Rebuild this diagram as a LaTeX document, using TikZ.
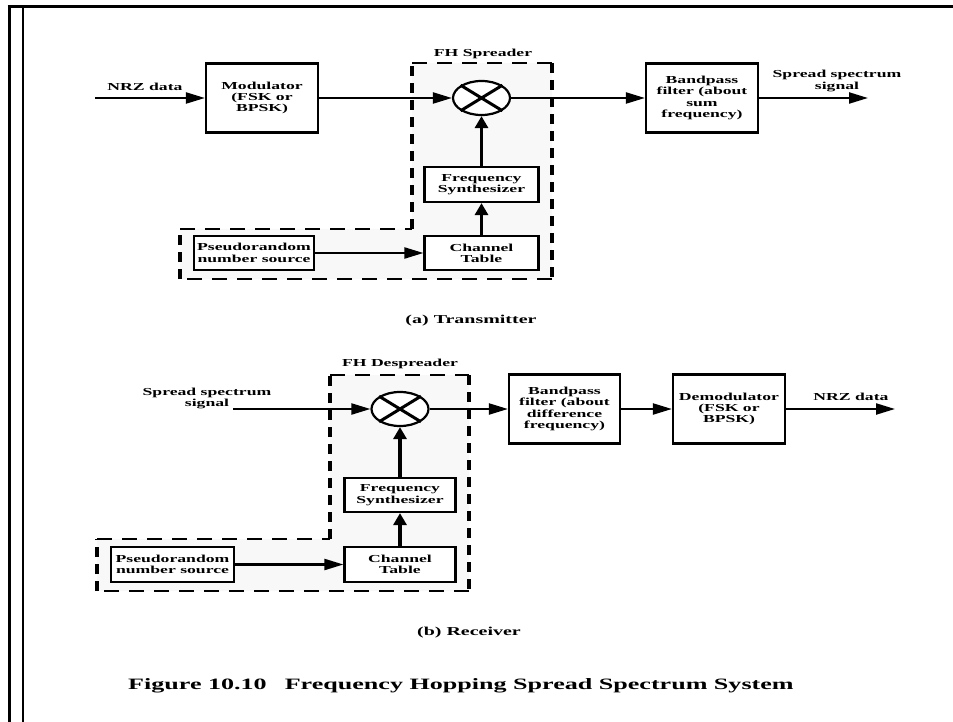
\documentclass[tikz,border=0pt]{standalone}
\usepackage{fontspec}
\newfontfamily\widefont{Liberation Serif}[FakeStretch=1.65]
\usetikzlibrary{arrows.meta,shapes.geometric}
\definecolor{regionfill}{HTML}{F8F8F8}
\tikzset{
  txt/.style={font=\widefont\bfseries\fontsize{10.7}{11.3}\selectfont},
  blk/.style={txt, draw, line width=2.2pt, fill=white, inner sep=0pt, align=center},
  lbl/.style={txt, inner sep=0pt, align=center},
  sublbl/.style={inner sep=0pt, font=\widefont\bfseries\fontsize{12.1}{14}\selectfont},
  capt/.style={inner sep=0pt, font=\widefont\bfseries\fontsize{15.8}{18}\selectfont},
  hflow/.style={line width=2.2pt, -{Triangle[length=19pt,width=11pt]}},
  vflow/.style={line width=3.2pt, -{Triangle[length=12pt,width=13pt]}},
  hdash/.style={line width=2.2pt, dash pattern=on 15pt off 10pt},
  vdash/.style={line width=3.4pt, dash pattern=on 10pt off 7pt},
  mixer/.style={draw, ellipse, line width=2.2pt, fill=white, inner sep=0pt,
                minimum width=57pt, minimum height=34pt},
  cross/.style={line width=3pt},
}
\begin{document}
\begin{tikzpicture}[x=1pt,y=-1pt]
\useasboundingbox (0,0) rectangle (953,722);

% page frame
\draw[line width=3pt] (7.5,7) -- (953,7);
\draw[line width=3pt] (9,5.5) -- (9,722);
\draw[line width=2pt] (23,8) -- (23,722);

% ---------------- (a) Transmitter ----------------
\fill[regionfill] (412,63) -- (552,63) -- (552,279) -- (180,279) -- (180,229) -- (412,229) -- cycle;
\draw[hdash] (412,63) -- (552,63);
\draw[vdash] (552,63) -- (552,279);
\draw[hdash] (552,279) -- (180,279);
\draw[vdash] (180,279) -- (180,229);
\draw[hdash] (180,229) -- (412,229);
\draw[vdash] (412,229) -- (412,63);
\node[lbl] (spreadlbl) at (483,54) {FH Spreader};

\coordinate (nrzin) at (95,98);
\coordinate (sigout) at (868,98);
\node[blk, minimum width=112pt, minimum height=69pt] (mod) at (262,98) {Modulator\\(FSK or\\BPSK)};
\node[mixer] (mixa) at (481.5,98) {};
\draw[cross] (mixa.north east) -- (mixa.south west) (mixa.north west) -- (mixa.south east);
\node[blk, minimum width=112pt, minimum height=69pt] (bpfa) at (702,98) {Bandpass\\filter (about\\sum\\frequency)};
\node[blk, minimum width=114pt, minimum height=35pt] (fsa) at (481.5,184.5) {Frequency\\Synthesizer};
\node[blk, minimum width=114pt, minimum height=34pt] (cta) at (481.5,253) {Channel\\Table};
\node[blk, minimum width=120pt, minimum height=34pt] (pra) at (254,253) {Pseudorandom\\number source};

\node[lbl] (nrzlbla) at (145,87) {NRZ data};
\node[lbl] (siglbla) at (837,81) {Spread spectrum\\signal};

\draw[hflow] (nrzin) -- (mod);
\draw[hflow] (mod) -- (mixa);
\draw[hflow] (mixa) -- (bpfa);
\draw[hflow] (bpfa) -- (sigout);
\draw[vflow] (fsa) -- (mixa);
\draw[vflow] (cta) -- (fsa);
\draw[hflow] (pra) -- (cta);

\node[sublbl] (capa) at (471,321) {(a) Transmitter};

% ---------------- (b) Receiver ----------------
\fill[regionfill] (330,375) -- (469,375) -- (469,591) -- (97,591) -- (97,539) -- (330,539) -- cycle;
\draw[hdash] (330,375) -- (469,375);
\draw[vdash] (469,375) -- (469,591);
\draw[hdash] (469,591) -- (97,591);
\draw[vdash] (97,591) -- (97,539);
\draw[hdash] (97,539) -- (330,539);
\draw[vdash] (330,539) -- (330,375);
\node[lbl] (despreadlbl) at (400,364) {FH Despreader};

\coordinate (sigin) at (233,409);
\coordinate (nrzout) at (895,409);
\node[mixer] (mixb) at (400,409) {};
\draw[cross] (mixb.north east) -- (mixb.south west) (mixb.north west) -- (mixb.south east);
\node[blk, minimum width=111pt, minimum height=69pt] (bpfb) at (564.5,409) {Bandpass\\filter (about\\difference\\frequency)};
\node[blk, minimum width=112pt, minimum height=69pt] (dem) at (729,409) {Demodulator\\(FSK or\\BPSK)};
\node[blk, minimum width=111pt, minimum height=34pt] (fsb) at (400,495) {Frequency\\Synthesizer};
\node[blk, minimum width=111pt, minimum height=35pt] (ctb) at (400,564.5) {Channel\\Table};
\node[blk, minimum width=123pt, minimum height=35pt] (prb) at (172.5,564.5) {Pseudorandom\\number source};

\node[lbl] (siglblb) at (207,398.5) {Spread spectrum\\signal};
\node[lbl] (nrzlblb) at (851,397) {NRZ data};

\draw[hflow] (sigin) -- (mixb);
\draw[hflow] (mixb) -- (bpfb);
\draw[hflow] (bpfb) -- (dem);
\draw[hflow] (dem) -- (nrzout);
\draw[vflow] (fsb) -- (mixb);
\draw[vflow] (ctb) -- (fsb);
\draw[hflow] (prb) -- (ctb);

\node[sublbl] (capb) at (469,633) {(b) Receiver};

% figure caption
\node[capt, anchor=west] (figcap) at (128,686) {Figure 10.10\hspace{18pt}Frequency Hopping Spread Spectrum System};
\end{tikzpicture}
\end{document}
